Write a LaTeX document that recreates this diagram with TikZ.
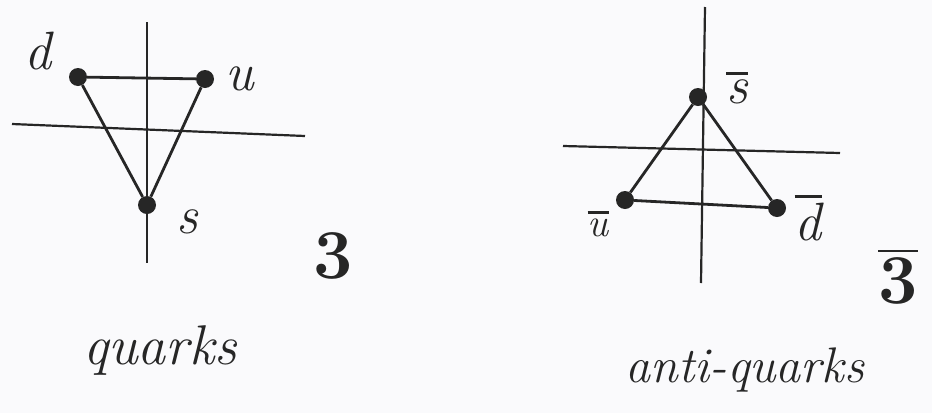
\documentclass[tikz,border=0pt]{standalone}
\usepackage{amsmath}
\usepackage{tikz}
\usetikzlibrary{
  positioning,
  calc
}
\definecolor{inkcolor}{RGB}{38, 38, 38}
\definecolor{papercolor}{RGB}{250, 250, 252}
\newcommand{\barletter}[1]{\setbox0\hbox{#1}\vbox{\hrule height 2.4pt width \wd0 \kern 5pt \box0}}
\tikzset{
axisline/.style={
  draw=inkcolor,
  line width=2.2pt
},
edgeline/.style={
  draw=inkcolor,
  line width=2.8pt
},
quarkdot/.style={
  circle,
  fill=inkcolor,
  minimum size=18pt,
  inner sep=0pt
},
quarklabel/.style={
  font=\fontsize{54}{54}\selectfont\itshape,
  text=inkcolor,
  inner sep=0pt
},
replabel/.style={
  font=\fontsize{70}{70}\selectfont\bfseries,
  text=inkcolor,
  inner sep=0pt
},
captionlabel/.style={
  font=\fontsize{50}{50}\selectfont\itshape,
  text=inkcolor,
  inner sep=0pt
}
}
\begin{document}
\begin{tikzpicture}[x=1pt,y=-1pt]
  \fill[papercolor] (0,0) rectangle (932,413);
  \useasboundingbox (0,0) rectangle (932,413);

  % quarks
  \coordinate (qtop) at (147,22);
  \coordinate (qbot) at (147,263);
  \coordinate (qleft) at (12,124);
  \coordinate (qright) at (305,136);
  \draw[axisline] (qtop) -- (qbot);
  \draw[axisline] (qleft) -- (qright);
  \node[quarkdot] (d) at (78,77) {};
  \node[quarkdot] (u) at (205,79) {};
  \node[quarkdot] (s) at (147,205) {};
  \draw[edgeline] (d) -- (u) -- (s) -- (d);
  \node[quarklabel] (dlabel) at (38,51) {d};
  \node[quarklabel] (ulabel) at (240,79) {u};
  \node[quarklabel] (slabel) at (187,222) {s};
  \node[replabel] (three) at (333,256) {3};
  \node[captionlabel, font=\fontsize{56}{56}\selectfont\itshape] (quarks) at (160,350) {quarks};

  % anti-quarks
  \coordinate (atop) at (705,7);
  \coordinate (abot) at (701,283);
  \coordinate (aleft) at (563,146);
  \coordinate (aright) at (840,153);
  \draw[axisline] (atop) -- (abot);
  \draw[axisline] (aleft) -- (aright);
  \node[quarkdot] (sbar) at (698,97) {};
  \node[quarkdot] (ubar) at (625,200) {};
  \node[quarkdot] (dbar) at (777,208) {};
  \draw[edgeline] (sbar) -- (dbar) -- (ubar) -- (sbar);
  \node[quarklabel] (sbarlabel) at (737,88) {\barletter{s}};
  \node[quarklabel, font=\fontsize{40}{40}\selectfont\itshape] (ubarlabel) at (598,224) {\barletter{u}};
  \node[quarklabel] (dbarlabel) at (808,218) {\barletter{d}};
  \node[replabel] (threebar) at (898,277) {\barletter{3}};
  \node[captionlabel] (antiquarks) at (745,370) {anti-quarks};
\end{tikzpicture}
\end{document}
